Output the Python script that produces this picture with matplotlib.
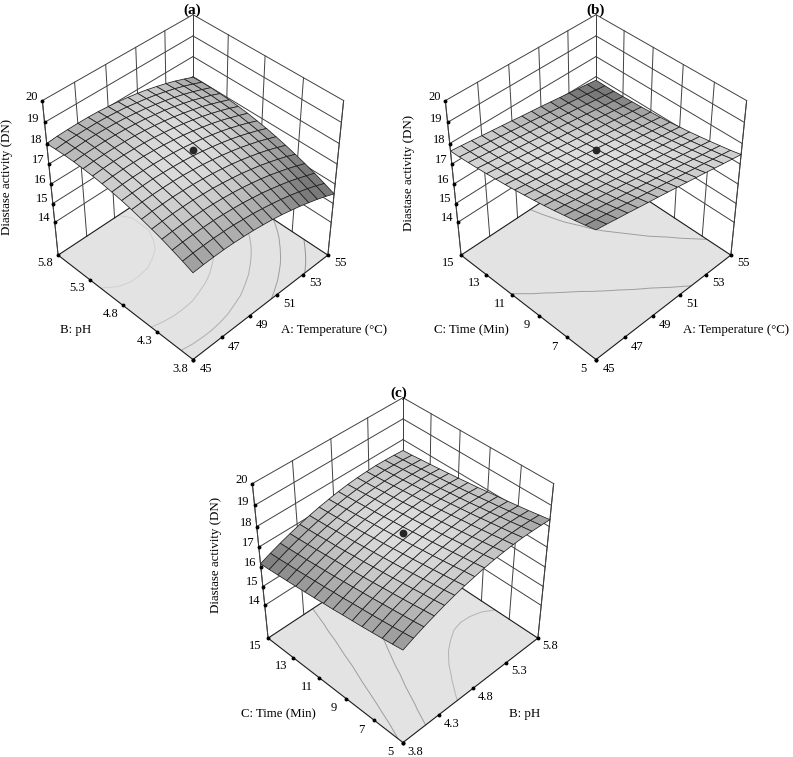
import numpy as np
import matplotlib
matplotlib.use('Agg')
import matplotlib.pyplot as plt
from mpl_toolkits.mplot3d import proj3d

plt.rcParams['font.family'] = ['Liberation Serif', 'DejaVu Sans']

W, H = 793, 757
temp_ticks = [45, 47, 49, 51, 53, 55]
ph_ticks = [3.8, 4.3, 4.8, 5.3, 5.8]
time_ticks = [5, 7, 9, 11, 13, 15]
z_ticks = [14, 15, 16, 17, 18, 19, 20]
z_base = 12.2

# surface heights, rows go along the y axis, columns along the x axis
z_a = [
    [16.76, 16.79, 16.80, 16.80, 16.78, 16.74, 16.69, 16.62, 16.54, 16.44, 16.32, 16.19, 16.04, 15.88, 15.70, 15.50],
    [16.96, 16.99, 17.00, 17.00, 16.98, 16.95, 16.89, 16.83, 16.74, 16.64, 16.53, 16.40, 16.25, 16.09, 15.91, 15.71],
    [17.14, 17.17, 17.18, 17.18, 17.17, 17.13, 17.08, 17.02, 16.93, 16.84, 16.72, 16.59, 16.45, 16.28, 16.10, 15.91],
    [17.31, 17.34, 17.35, 17.35, 17.33, 17.30, 17.25, 17.19, 17.11, 17.01, 16.90, 16.77, 16.62, 16.46, 16.28, 16.09],
    [17.45, 17.48, 17.50, 17.50, 17.49, 17.45, 17.41, 17.34, 17.26, 17.17, 17.05, 16.93, 16.78, 16.62, 16.45, 16.25],
    [17.58, 17.62, 17.63, 17.64, 17.62, 17.59, 17.54, 17.48, 17.40, 17.31, 17.20, 17.07, 16.93, 16.77, 16.59, 16.40],
    [17.70, 17.73, 17.75, 17.75, 17.74, 17.71, 17.66, 17.60, 17.52, 17.43, 17.32, 17.20, 17.05, 16.90, 16.72, 16.53],
    [17.80, 17.83, 17.85, 17.86, 17.84, 17.81, 17.77, 17.71, 17.63, 17.54, 17.43, 17.31, 17.17, 17.01, 16.84, 16.65],
    [17.88, 17.92, 17.94, 17.94, 17.93, 17.90, 17.86, 17.80, 17.72, 17.63, 17.52, 17.40, 17.26, 17.10, 16.93, 16.74],
    [17.95, 17.99, 18.01, 18.01, 18.00, 17.97, 17.93, 17.87, 17.80, 17.71, 17.60, 17.48, 17.34, 17.18, 17.01, 16.83],
    [18.00, 18.04, 18.06, 18.06, 18.05, 18.03, 17.99, 17.93, 17.86, 17.77, 17.66, 17.54, 17.40, 17.25, 17.08, 16.89],
    [18.03, 18.07, 18.09, 18.10, 18.09, 18.07, 18.03, 17.97, 17.90, 17.81, 17.70, 17.58, 17.45, 17.29, 17.12, 16.94],
    [18.05, 18.09, 18.11, 18.12, 18.11, 18.09, 18.05, 18.00, 17.92, 17.84, 17.73, 17.61, 17.48, 17.32, 17.16, 16.97],
    [18.05, 18.09, 18.12, 18.13, 18.12, 18.10, 18.06, 18.00, 17.93, 17.84, 17.74, 17.62, 17.49, 17.34, 17.17, 16.99],
    [18.03, 18.08, 18.10, 18.11, 18.11, 18.09, 18.05, 18.00, 17.92, 17.84, 17.74, 17.62, 17.49, 17.34, 17.17, 16.99],
    [18.00, 18.05, 18.07, 18.08, 18.08, 18.06, 18.02, 17.97, 17.90, 17.82, 17.72, 17.60, 17.47, 17.32, 17.15, 16.97],
]
z_b = [
    [18.80, 18.72, 18.63, 18.55, 18.46, 18.37, 18.29, 18.20, 18.11, 18.02, 17.93, 17.84, 17.74, 17.65, 17.56, 17.47],
    [18.67, 18.59, 18.51, 18.43, 18.34, 18.26, 18.17, 18.09, 18.00, 17.91, 17.82, 17.73, 17.65, 17.55, 17.46, 17.37],
    [18.55, 18.47, 18.39, 18.31, 18.23, 18.15, 18.07, 17.98, 17.90, 17.81, 17.73, 17.64, 17.55, 17.46, 17.38, 17.29],
    [18.44, 18.36, 18.28, 18.21, 18.13, 18.05, 17.97, 17.88, 17.80, 17.72, 17.64, 17.55, 17.47, 17.38, 17.30, 17.21],
    [18.33, 18.26, 18.18, 18.11, 18.03, 17.95, 17.87, 17.79, 17.71, 17.63, 17.55, 17.47, 17.39, 17.31, 17.22, 17.14],
    [18.23, 18.16, 18.09, 18.01, 17.94, 17.86, 17.79, 17.71, 17.63, 17.56, 17.48, 17.40, 17.32, 17.24, 17.15, 17.07],
    [18.14, 18.07, 18.00, 17.93, 17.86, 17.78, 17.71, 17.64, 17.56, 17.48, 17.41, 17.33, 17.25, 17.17, 17.10, 17.02],
    [18.06, 17.99, 17.92, 17.85, 17.78, 17.71, 17.64, 17.57, 17.49, 17.42, 17.35, 17.27, 17.20, 17.12, 17.04, 16.96],
    [17.98, 17.91, 17.85, 17.78, 17.71, 17.64, 17.58, 17.51, 17.44, 17.36, 17.29, 17.22, 17.15, 17.07, 17.00, 16.92],
    [17.91, 17.85, 17.78, 17.72, 17.65, 17.59, 17.52, 17.45, 17.38, 17.31, 17.24, 17.17, 17.10, 17.03, 16.96, 16.89],
    [17.85, 17.78, 17.72, 17.66, 17.60, 17.53, 17.47, 17.40, 17.34, 17.27, 17.20, 17.14, 17.07, 17.00, 16.93, 16.86],
    [17.79, 17.73, 17.67, 17.61, 17.55, 17.49, 17.43, 17.36, 17.30, 17.24, 17.17, 17.11, 17.04, 16.97, 16.90, 16.84],
    [17.74, 17.68, 17.63, 17.57, 17.51, 17.45, 17.39, 17.33, 17.27, 17.21, 17.15, 17.08, 17.02, 16.95, 16.89, 16.82],
    [17.70, 17.64, 17.59, 17.53, 17.48, 17.42, 17.36, 17.31, 17.25, 17.19, 17.13, 17.07, 17.00, 16.94, 16.88, 16.81],
    [17.66, 17.61, 17.56, 17.51, 17.45, 17.40, 17.34, 17.29, 17.23, 17.17, 17.11, 17.06, 17.00, 16.94, 16.87, 16.81],
    [17.64, 17.59, 17.54, 17.48, 17.43, 17.38, 17.33, 17.27, 17.22, 17.17, 17.11, 17.05, 17.00, 16.94, 16.88, 16.82],
]
z_c = [
    [17.04, 17.25, 17.44, 17.61, 17.77, 17.91, 18.03, 18.13, 18.22, 18.29, 18.34, 18.37, 18.39, 18.38, 18.36, 18.33],
    [16.96, 17.17, 17.36, 17.54, 17.69, 17.83, 17.95, 18.06, 18.14, 18.21, 18.26, 18.30, 18.31, 18.31, 18.29, 18.25],
    [16.88, 17.09, 17.29, 17.46, 17.62, 17.76, 17.88, 17.98, 18.07, 18.14, 18.19, 18.22, 18.24, 18.23, 18.21, 18.17],
    [16.81, 17.02, 17.22, 17.39, 17.55, 17.69, 17.81, 17.91, 18.00, 18.07, 18.12, 18.15, 18.17, 18.16, 18.14, 18.10],
    [16.74, 16.95, 17.15, 17.32, 17.48, 17.62, 17.74, 17.84, 17.93, 18.00, 18.05, 18.08, 18.10, 18.09, 18.07, 18.03],
    [16.68, 16.89, 17.08, 17.26, 17.41, 17.55, 17.67, 17.78, 17.86, 17.93, 17.98, 18.02, 18.03, 18.03, 18.01, 17.97],
    [16.62, 16.83, 17.02, 17.19, 17.35, 17.49, 17.61, 17.71, 17.80, 17.87, 17.92, 17.95, 17.97, 17.96, 17.94, 17.91],
    [16.55, 16.76, 16.96, 17.13, 17.29, 17.43, 17.55, 17.65, 17.74, 17.81, 17.86, 17.89, 17.91, 17.90, 17.88, 17.84],
    [16.50, 16.71, 16.90, 17.07, 17.23, 17.37, 17.49, 17.60, 17.68, 17.75, 17.80, 17.83, 17.85, 17.85, 17.82, 17.79],
    [16.44, 16.65, 16.84, 17.02, 17.18, 17.32, 17.44, 17.54, 17.63, 17.70, 17.75, 17.78, 17.79, 17.79, 17.77, 17.73],
    [16.39, 16.60, 16.79, 16.97, 17.12, 17.26, 17.38, 17.49, 17.57, 17.64, 17.69, 17.73, 17.74, 17.74, 17.72, 17.68],
    [16.34, 16.55, 16.74, 16.92, 17.07, 17.21, 17.33, 17.44, 17.52, 17.59, 17.64, 17.68, 17.69, 17.69, 17.67, 17.63],
    [16.29, 16.50, 16.69, 16.87, 17.03, 17.17, 17.29, 17.39, 17.48, 17.55, 17.60, 17.63, 17.64, 17.64, 17.62, 17.58],
    [16.25, 16.46, 16.65, 16.82, 16.98, 17.12, 17.24, 17.35, 17.43, 17.50, 17.55, 17.58, 17.60, 17.60, 17.57, 17.54],
    [16.20, 16.41, 16.61, 16.78, 16.94, 17.08, 17.20, 17.30, 17.39, 17.46, 17.51, 17.54, 17.56, 17.55, 17.53, 17.49],
    [16.17, 16.38, 16.57, 16.74, 16.90, 17.04, 17.16, 17.26, 17.35, 17.42, 17.47, 17.50, 17.52, 17.51, 17.49, 17.46],
]
levels_a = [16, 16.5, 17, 17.5, 18]
levels_b = [17.25, 17.9]
levels_c = [17, 17.5, 18]
level_colors_a = ['0.58', '0.62', '0.68', '0.75', '0.82']
level_colors_b = ['0.62', '0.62']
level_colors_c = ['0.62', '0.62', '0.7']
dot_z = [17.7, 17.68, 17.67]


def cell_grays(Z, k_front, k_back, k_side):
    # lit like the original: moderate slopes bright, steep cells and the far corners darker
    u = np.linspace(-1, 1, Z.shape[1])
    v = np.linspace(-1, 1, Z.shape[0])
    U, V = np.meshgrid(u, v)
    dv, du = np.gradient(Z, v, u)
    slope = np.hypot(du, dv)
    d = (U + V) / 2 + 0.1
    s = (U - V) / 2
    gray = 0.87 - 0.2 * (slope - 0.75) ** 2 - np.where(d < 0, k_front, k_back) * d ** 2 - k_side * s ** 2
    gray = np.clip(gray, 0.48, 0.9)
    return np.dstack([gray, gray, gray, np.ones_like(gray)])


def draw_panel(cx, cy, xticks, yticks, Z, levels, level_colors, zdot, shade, xlab, ylab, title, xlab_pos, ylab_pos, zlab_pos, title_pos, fig):
    S = 420
    ax = fig.add_axes([(cx - 5.7 - S / 2) / W, (H - cy + 5.7 - S / 2) / H, S / W, S / H], projection='3d', computed_zorder=False)
    ax.patch.set_visible(False)
    ax.set_proj_type('persp', focal_length=0.554)
    ax.view_init(elev=42, azim=-135)
    ax.set_box_aspect((1, 1, 1.03), zoom=0.814)
    x0, x1 = xticks[0], xticks[-1]
    y0, y1 = yticks[0], yticks[-1]
    z1 = z_ticks[-1]
    ax.set_xlim(x0, x1, view_margin=0)
    ax.set_ylim(y0, y1, view_margin=0)
    ax.set_zlim(z_base, z1, view_margin=0)
    ax.set_axis_off()

    # floor
    fx, fy = np.meshgrid([x0, x1], [y0, y1])
    ax.plot_surface(fx, fy, np.full(fx.shape, z_base), color='0.89', shade=False, zorder=1)

    Z = np.array(Z)
    X, Y = np.meshgrid(np.linspace(x0, x1, Z.shape[1]), np.linspace(y0, y1, Z.shape[0]))
    ax.contour(X, Y, Z, levels=levels, zdir='z', offset=z_base, colors=level_colors, linewidths=0.7, zorder=2)

    line = dict(color='0.25', lw=0.7, zorder=3)
    for t in xticks:
        ax.plot([t, t], [y1, y1], [z_base, z1], **line)
    for t in yticks:
        ax.plot([x1, x1], [t, t], [z_base, z1], **line)
    for z in z_ticks:
        ax.plot([x0, x1], [y1, y1], [z, z], **line)
        ax.plot([x1, x1], [y0, y1], [z, z], **line)
    ax.plot([x0, x0], [y1, y1], [z_base, z1], **line)
    ax.plot([x1, x1], [y0, y0], [z_base, z1], **line)
    ax.plot([x0, x1, x1], [y0, y0, y1], [z_base] * 3, color='0.1', lw=0.8, zorder=3)
    ax.plot([x0, x0, x1], [y0, y1, y1], [z_base] * 3, color='0.1', lw=0.8, zorder=3)

    ax.plot_surface(X, Y, Z, rstride=1, cstride=1, facecolors=cell_grays(Z, *shade), shade=False,
                    edgecolor='0.12', linewidth=0.55, zorder=4)

    # ticks
    dots = dict(color='k', marker='o', ms=1.8, ls='none', zorder=5)
    ax.plot(xticks, [y0] * len(xticks), [z_base] * len(xticks), **dots)
    ax.plot([x0] * len(yticks), yticks, [z_base] * len(yticks), **dots)
    ax.plot([x0] * len(z_ticks), [y1] * len(z_ticks), z_ticks, **dots)
    ax.plot([(x0 + x1) / 2], [(y0 + y1) / 2], [zdot], color='0.15', marker='o', ms=4.6, ls='none', zorder=6)

    M = ax.get_proj()

    def label3d(x, y, z, s):
        px, py, _ = proj3d.proj_transform(x, y, z, M)
        ax.text2D(px, py, s, fontsize=9, ha='center', va='center')

    dx = (x1 - x0) * 0.085
    dy = (y1 - y0) * 0.085
    for t in xticks:
        label3d(t, y0 - dy, z_base, str(t))
    for t in yticks:
        label3d(x0 - dx, t, z_base, str(t))
    for z in z_ticks:
        label3d(x0, y1 + dy, z - 0.2, str(z))

    fig.text(xlab_pos[0] / W, 1 - xlab_pos[1] / H, xlab, fontsize=9.3, ha='center', va='center')
    fig.text(ylab_pos[0] / W, 1 - ylab_pos[1] / H, ylab, fontsize=9.3, ha='center', va='center')
    fig.text(zlab_pos[0] / W, 1 - zlab_pos[1] / H, 'Diastase activity (DN)', fontsize=9.3, rotation=90, ha='center', va='center')
    fig.text(title_pos[0] / W, 1 - title_pos[1] / H, title, fontsize=11, fontweight='bold', ha='center', va='center')


fig = plt.figure(figsize=(W / 100, H / 100), dpi=100)
draw_panel(193, 193.5, temp_ticks, ph_ticks, z_a, levels_a, level_colors_a, dot_z[0], (0.15, 0.17, 0.15), 'A: Temperature (°C)', 'B: pH', '(a)', (334, 330), (76, 330), (7, 177), (192, 10), fig)
draw_panel(596, 193.5, temp_ticks, time_ticks, z_b, levels_b, level_colors_b, dot_z[1], (0.35, 0.55, 0.05), 'A: Temperature (°C)', 'C: Time (Min)', '(b)', (736, 330), (471, 330), (409, 173), (596, 10), fig)
draw_panel(403, 576.5, ph_ticks, time_ticks, z_c, levels_c, level_colors_c, dot_z[2], (0.1, 0.1, 0.25), 'B: pH', 'C: Time (Min)', '(c)', (525, 714), (278, 714), (216, 555), (399, 393), fig)
fig.savefig('out.png', dpi=100)
